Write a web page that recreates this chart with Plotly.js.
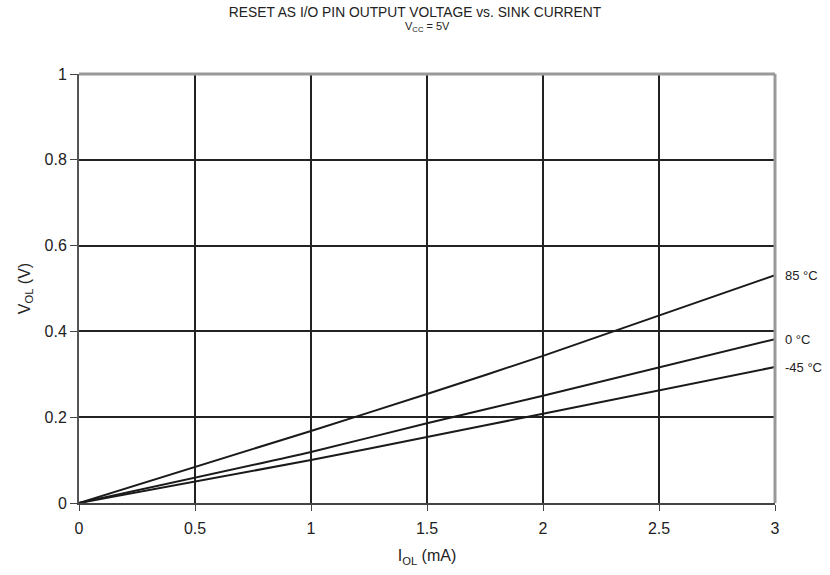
<!DOCTYPE html>
<html><head><meta charset="utf-8">
<script src="https://cdn.plot.ly/plotly-3.0.1.min.js"></script>
<style>html,body{margin:0;padding:0;background:#fff}</style>
</head><body><div id="chart" style="width:830px;height:575px"></div>
<script>
const currentMA = [0, 1, 1.5, 2, 3];
const seriesNames = ["85 °C", "0 °C", "-45 °C"];
const v85 = [0, 0.168, 0.254, 0.343, 0.531];
const v0 = [0, 0.119, 0.186, 0.250, 0.382];
const vm45 = [0, 0.100, 0.154, 0.208, 0.317];
const seriesValues = [v85, v0, vm45];
const xTicks = [0, 0.5, 1, 1.5, 2, 2.5, 3];
const xTickLabels = ["0", "0.5", "1", "1.5", "2", "2.5", "3"];
const yTicks = [0, 0.2, 0.4, 0.6, 0.8, 1];
const yTickLabels = ["0", "0.2", "0.4", "0.6", "0.8", "1"];

const FONT = "Liberation Sans, Arial, sans-serif";
const traces = seriesValues.map((vals, i) => ({
  x: currentMA, y: vals, type: "scatter", mode: "lines", name: seriesNames[i],
  line: {color: "#1a1a1a", width: 2, shape: "spline", smoothing: 0.6}, hoverinfo: "skip"
}));
const annotations = seriesValues.map((vals, i) => ({
  x: currentMA[currentMA.length - 1], y: vals[vals.length - 1], xref: "x", yref: "y",
  text: seriesNames[i], showarrow: false, xanchor: "left", xshift: 8,
  font: {size: 13, color: "#222", family: FONT}
}));
annotations.push({
  xref: "paper", yref: "paper", x: 0.5, y: 1, yshift: 47, xanchor: "center", yanchor: "middle",
  text: "V<sub>CC</sub> = 5V", showarrow: false,
  font: {size: 11, color: "#222", family: FONT}
});
const layout = {
  width: 830, height: 575,
  margin: {l: 79, r: 55, t: 74, b: 72},
  paper_bgcolor: "#fff", plot_bgcolor: "#fff",
  showlegend: false,
  title: {text: "RESET AS I/O PIN OUTPUT VOLTAGE vs. SINK CURRENT", x: 0.5, xanchor: "center",
    y: 1, yref: "container", yanchor: "top", pad: {t: 7},
    font: {size: 13.8, color: "#222", family: FONT}},
  font: {family: FONT, color: "#222"},
  xaxis: {range: [0, 3], tickvals: xTicks, ticktext: xTickLabels, ticks: "outside", ticklen: 6,
    tickcolor: "#444", showgrid: true, gridcolor: "#222", gridwidth: 2, zeroline: false,
    showline: true, linecolor: "#444", linewidth: 2, mirror: false, ticklabelstandoff: 4,
    tickfont: {size: 16, color: "#222"},
    title: {text: "I<sub>OL</sub> (mA)", font: {size: 16, color: "#222"}, standoff: 14}},
  yaxis: {range: [0, 1], tickvals: yTicks, ticktext: yTickLabels, ticks: "outside", ticklen: 7,
    tickcolor: "#444", showgrid: true, gridcolor: "#222", gridwidth: 2, zeroline: false,
    showline: true, linecolor: "#555", linewidth: 2,
    tickfont: {size: 16, color: "#222"},
    title: {text: "V<sub>OL</sub> (V)", font: {size: 16, color: "#222"}, standoff: 10}},
  shapes: [
    {type: "line", xref: "paper", yref: "paper", x0: 1, x1: 1, y0: 0, y1: 1, line: {color: "#999", width: 3}},
    {type: "line", xref: "paper", yref: "paper", x0: 0, x1: 1, y0: 1, y1: 1, line: {color: "#999", width: 3}}
  ],
  annotations: annotations
};
Plotly.newPlot("chart", traces, layout, {displayModeBar: false, staticPlot: true});
</script></body></html>
